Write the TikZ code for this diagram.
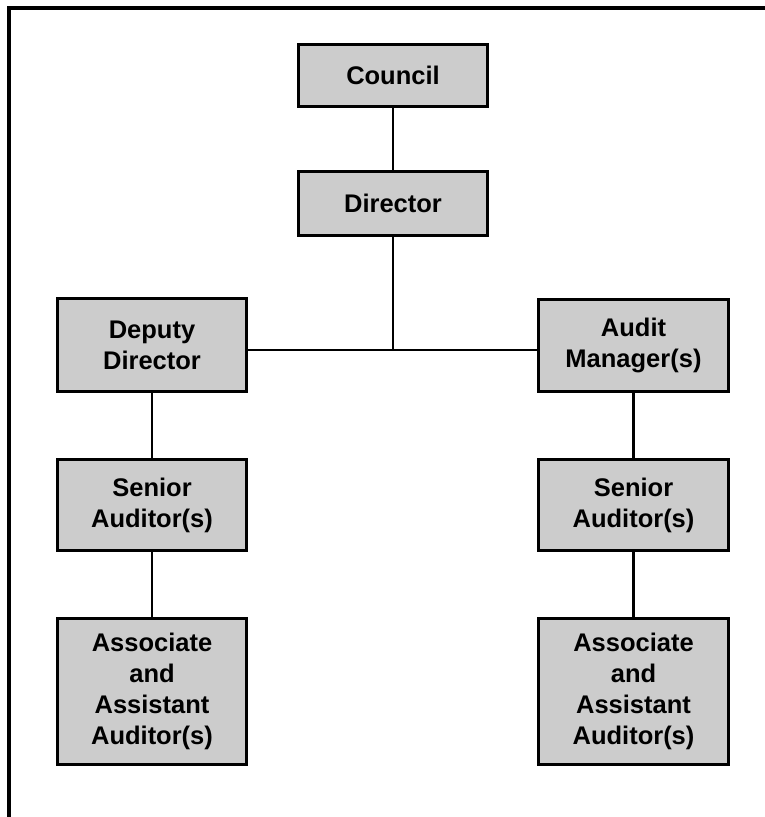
\documentclass[tikz,border=0pt]{standalone}
\usepackage{fontspec}
\setmainfont{Liberation Sans}
\begin{document}
\begin{tikzpicture}[x=1pt,y=1pt,
  orgbox/.style={draw=black, line width=3pt, fill=black!20, align=center,
    minimum width=189pt, inner sep=0pt,
    font=\bfseries\fontsize{25.5}{31}\selectfont},
  link/.style={line width=2.5pt}]
\useasboundingbox (0,0) rectangle (765,817);
% open frame
\draw[line width=4pt] (9,0) -- (9,808.5) -- (765,808.5);
% nodes
\node[orgbox, minimum height=62pt] (council) at (393,741.5) {Council};
\node[orgbox, minimum height=64pt] (director) at (393,613.5) {Director};
\node[orgbox, minimum height=93pt] (deputy) at (152,472) {Deputy\\Director};
\node[orgbox, minimum height=92pt, minimum width=190pt] (audit) at (633.5,471.5) {Audit\\Manager(s)};
\node[orgbox, minimum height=91pt] (seniorL) at (152,312) {Senior\\Auditor(s)};
\node[orgbox, minimum height=91pt, minimum width=190pt] (seniorR) at (633.5,312) {Senior\\Auditor(s)};
\node[orgbox, minimum height=146pt] (assocL) at (152,125.5) {Associate\\and\\Assistant\\Auditor(s)};
\node[orgbox, minimum height=146pt, minimum width=190pt] (assocR) at (633.5,125.5) {Associate\\and\\Assistant\\Auditor(s)};
\coordinate (j) at (393,467);
% connectors
\draw[link] (council) -- (director);
\draw[link] (director) -- (j);
\draw[link] (deputy.east |- j) -- (audit.west |- j);
\draw[link] (deputy) -- (seniorL);
\draw[link] (seniorL) -- (assocL);
\draw[link] (audit) -- (seniorR);
\draw[link] (seniorR) -- (assocR);
\end{tikzpicture}
\end{document}
